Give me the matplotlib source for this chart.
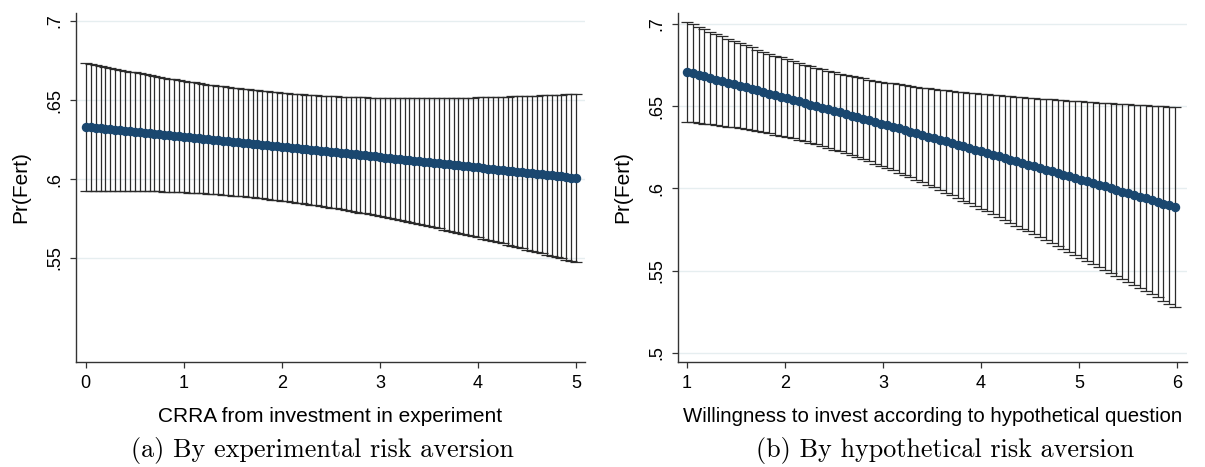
# -*- coding: utf-8 -*-
"""Predicted Pr(Fert) with 95% CI: (a) experimental CRRA, (b) hypothetical willingness."""
import matplotlib as mpl; mpl.use("Agg")
import matplotlib.pyplot as plt

mpl.rcParams.update({
    "font.family": "sans-serif",
    "font.sans-serif": ["Liberation Sans", "DejaVu Sans"],
    "axes.spines.top": False,
    "axes.spines.right": False,
})

NAVY = "#1a476f"
CAP = "#2b2b2b"
GRID = "#e6eef0"
AXIS = "#333333"

# ── panel (a): CRRA from investment in experiment ─────────────────────────────
X_A = [0.00, 0.05, 0.10, 0.15, 0.20, 0.25, 0.30, 0.35, 0.40, 0.45,
       0.50, 0.55, 0.60, 0.65, 0.70, 0.75, 0.80, 0.85, 0.90, 0.95,
       1.00, 1.05, 1.10, 1.15, 1.20, 1.25, 1.30, 1.35, 1.40, 1.45,
       1.50, 1.55, 1.60, 1.65, 1.70, 1.75, 1.80, 1.85, 1.90, 1.95,
       2.00, 2.05, 2.10, 2.15, 2.20, 2.25, 2.30, 2.35, 2.40, 2.45,
       2.50, 2.55, 2.60, 2.65, 2.70, 2.75, 2.80, 2.85, 2.90, 2.95,
       3.00, 3.05, 3.10, 3.15, 3.20, 3.25, 3.30, 3.35, 3.40, 3.45,
       3.50, 3.55, 3.60, 3.65, 3.70, 3.75, 3.80, 3.85, 3.90, 3.95,
       4.00, 4.05, 4.10, 4.15, 4.20, 4.25, 4.30, 4.35, 4.40, 4.45,
       4.50, 4.55, 4.60, 4.65, 4.70, 4.75, 4.80, 4.85, 4.90, 4.95,
       5.00]
MEAN_A = [0.63310, 0.63279, 0.63248, 0.63217, 0.63186, 0.63155, 0.63123, 0.63092, 0.63061, 0.63030,
          0.62999, 0.62967, 0.62936, 0.62905, 0.62873, 0.62842, 0.62810, 0.62779, 0.62747, 0.62716,
          0.62684, 0.62652, 0.62621, 0.62589, 0.62557, 0.62526, 0.62494, 0.62462, 0.62430, 0.62398,
          0.62367, 0.62335, 0.62303, 0.62271, 0.62239, 0.62207, 0.62175, 0.62142, 0.62110, 0.62078,
          0.62046, 0.62014, 0.61982, 0.61949, 0.61917, 0.61885, 0.61852, 0.61820, 0.61787, 0.61755,
          0.61722, 0.61690, 0.61657, 0.61625, 0.61592, 0.61560, 0.61527, 0.61494, 0.61462, 0.61429,
          0.61396, 0.61363, 0.61330, 0.61297, 0.61265, 0.61232, 0.61199, 0.61166, 0.61133, 0.61100,
          0.61067, 0.61033, 0.61000, 0.60967, 0.60934, 0.60901, 0.60867, 0.60834, 0.60801, 0.60767,
          0.60734, 0.60701, 0.60667, 0.60634, 0.60600, 0.60567, 0.60533, 0.60500, 0.60466, 0.60432,
          0.60399, 0.60365, 0.60331, 0.60297, 0.60263, 0.60230, 0.60196, 0.60162, 0.60128, 0.60094,
          0.60060]
# half-width of the 95% CI
HALF_A = [0.04050, 0.04016, 0.03983, 0.03950, 0.03919, 0.03888, 0.03857, 0.03828, 0.03799, 0.03772,
          0.03745, 0.03719, 0.03694, 0.03670, 0.03646, 0.03624, 0.03603, 0.03582, 0.03563, 0.03545,
          0.03527, 0.03511, 0.03496, 0.03482, 0.03469, 0.03457, 0.03446, 0.03436, 0.03428, 0.03420,
          0.03414, 0.03409, 0.03405, 0.03402, 0.03400, 0.03400, 0.03401, 0.03403, 0.03406, 0.03410,
          0.03415, 0.03422, 0.03429, 0.03438, 0.03448, 0.03459, 0.03471, 0.03485, 0.03499, 0.03514,
          0.03531, 0.03548, 0.03567, 0.03586, 0.03607, 0.03628, 0.03651, 0.03674, 0.03699, 0.03724,
          0.03750, 0.03777, 0.03805, 0.03834, 0.03863, 0.03894, 0.03925, 0.03957, 0.03989, 0.04023,
          0.04057, 0.04091, 0.04127, 0.04163, 0.04200, 0.04237, 0.04275, 0.04313, 0.04352, 0.04392,
          0.04432, 0.04473, 0.04514, 0.04556, 0.04598, 0.04641, 0.04684, 0.04728, 0.04772, 0.04816,
          0.04861, 0.04906, 0.04952, 0.04998, 0.05044, 0.05091, 0.05138, 0.05185, 0.05233, 0.05281,
          0.05330]

# ── panel (b): willingness to invest (hypothetical question) ──────────────────
X_B = [1.00, 1.06, 1.12, 1.18, 1.24, 1.30, 1.36, 1.42, 1.48, 1.54,
       1.60, 1.66, 1.72, 1.78, 1.84, 1.90, 1.96, 2.02, 2.08, 2.14,
       2.20, 2.26, 2.32, 2.38, 2.44, 2.50, 2.56, 2.62, 2.68, 2.74,
       2.80, 2.86, 2.92, 2.98, 3.04, 3.10, 3.16, 3.22, 3.28, 3.34,
       3.40, 3.46, 3.52, 3.58, 3.64, 3.70, 3.76, 3.82, 3.88, 3.94,
       4.00, 4.06, 4.12, 4.18, 4.24, 4.30, 4.36, 4.42, 4.48, 4.54,
       4.60, 4.66, 4.72, 4.78, 4.84, 4.90, 4.96, 5.02, 5.08, 5.14,
       5.20, 5.26, 5.32, 5.38, 5.44, 5.50, 5.56, 5.62, 5.68, 5.74,
       5.80, 5.86, 5.92, 5.98]
MEAN_B = [0.67090, 0.66997, 0.66904, 0.66810, 0.66717, 0.66623, 0.66529, 0.66435, 0.66341, 0.66247,
          0.66153, 0.66058, 0.65964, 0.65869, 0.65774, 0.65679, 0.65584, 0.65488, 0.65393, 0.65297,
          0.65201, 0.65105, 0.65009, 0.64913, 0.64817, 0.64720, 0.64623, 0.64527, 0.64430, 0.64332,
          0.64235, 0.64138, 0.64040, 0.63943, 0.63845, 0.63747, 0.63649, 0.63550, 0.63452, 0.63354,
          0.63255, 0.63156, 0.63057, 0.62958, 0.62859, 0.62759, 0.62660, 0.62560, 0.62460, 0.62360,
          0.62260, 0.62160, 0.62059, 0.61959, 0.61858, 0.61757, 0.61656, 0.61555, 0.61454, 0.61352,
          0.61251, 0.61149, 0.61047, 0.60945, 0.60843, 0.60741, 0.60638, 0.60536, 0.60433, 0.60330,
          0.60227, 0.60124, 0.60021, 0.59917, 0.59814, 0.59710, 0.59606, 0.59502, 0.59398, 0.59294,
          0.59189, 0.59085, 0.58980, 0.58875]
HALF_B = [0.03039, 0.02981, 0.02925, 0.02871, 0.02819, 0.02769, 0.02721, 0.02675, 0.02631, 0.02590,
          0.02552, 0.02516, 0.02483, 0.02453, 0.02427, 0.02403, 0.02382, 0.02365, 0.02351, 0.02341,
          0.02334, 0.02331, 0.02331, 0.02335, 0.02342, 0.02353, 0.02367, 0.02385, 0.02406, 0.02430,
          0.02457, 0.02488, 0.02521, 0.02557, 0.02596, 0.02637, 0.02681, 0.02727, 0.02775, 0.02826,
          0.02878, 0.02933, 0.02989, 0.03046, 0.03106, 0.03167, 0.03229, 0.03293, 0.03358, 0.03424,
          0.03491, 0.03559, 0.03628, 0.03699, 0.03770, 0.03842, 0.03914, 0.03988, 0.04062, 0.04137,
          0.04213, 0.04289, 0.04365, 0.04443, 0.04520, 0.04599, 0.04677, 0.04756, 0.04836, 0.04916,
          0.04996, 0.05077, 0.05158, 0.05239, 0.05321, 0.05403, 0.05485, 0.05567, 0.05650, 0.05733,
          0.05816, 0.05900, 0.05984, 0.06068]

XTICKS_A = [0, 1, 2, 3, 4, 5]
YTICKS_A = [0.55, 0.60, 0.65, 0.70]
YLABELS_A = [".55", ".6", ".65", ".7"]
XTICKS_B = [1, 2, 3, 4, 5, 6]
YTICKS_B = [0.50, 0.55, 0.60, 0.65, 0.70]
YLABELS_B = [".5", ".55", ".6", ".65", ".7"]

# ── Figure ─────────────────────────────────────────────────────────────────────
W, H = 1205, 467
fig = plt.figure(figsize=(W / 100, H / 100), dpi=100)
fig.patch.set_facecolor("white")


def px_axes(x0, y0, x1, y1):
    return fig.add_axes([x0 / W, 1 - y1 / H, (x1 - x0) / W, (y1 - y0) / H])


def draw(ax, x, mean, half, xticks, yticks, ylabels, xlim, ylim, xlabel, xl_size):
    for y in yticks:
        ax.axhline(y, color=GRID, lw=1.0, zorder=0)
    ax.errorbar(x, mean, yerr=half, fmt="none", ecolor=CAP, elinewidth=0.9,
                capsize=4.6, capthick=0.9, zorder=2)
    ax.plot(x, mean, color=NAVY, lw=3.6, marker="o", ms=5.8, mec=NAVY,
            mfc=NAVY, zorder=3)
    ax.set_xlim(*xlim)
    ax.set_ylim(*ylim)
    ax.set_xticks(xticks)
    ax.set_xticklabels([str(t) for t in xticks], fontsize=13)
    ax.set_yticks(yticks)
    ax.set_yticklabels(ylabels, fontsize=13, rotation=90, va="center")
    ax.tick_params(axis="both", length=4, width=0.9, color=AXIS, pad=5)
    for s in ("left", "bottom"):
        ax.spines[s].set_color(AXIS)
        ax.spines[s].set_linewidth(1.0)
    ax.set_xlabel(xlabel, fontsize=xl_size, labelpad=11)
    ax.set_ylabel("Pr(Fert)", fontsize=15, labelpad=12)


ax1 = px_axes(76, 13, 585, 362)
draw(ax1, X_A, MEAN_A, HALF_A, XTICKS_A, YTICKS_A, YLABELS_A,
     (-0.1, 5.09), (0.4842, 0.7051), "CRRA from investment in experiment", 15)

ax2 = px_axes(678, 13, 1187, 362)
draw(ax2, X_B, MEAN_B, HALF_B, XTICKS_B, YTICKS_B, YLABELS_B,
     (0.91, 6.1), (0.4945, 0.7067),
     "Willingness to invest according to hypothetical question", 14.7)

# sub-captions in the document's serif face
fig.text(322 / W, 1 - 450 / H, "(a) By experimental risk aversion",
         ha="center", va="center", fontsize=18.8, family="cmr10")
fig.text(945 / W, 1 - 450 / H, "(b) By hypothetical risk aversion",
         ha="center", va="center", fontsize=18.8, family="cmr10")

fig.savefig("out.png", dpi=100, facecolor="white")
print("wrote out.png")
